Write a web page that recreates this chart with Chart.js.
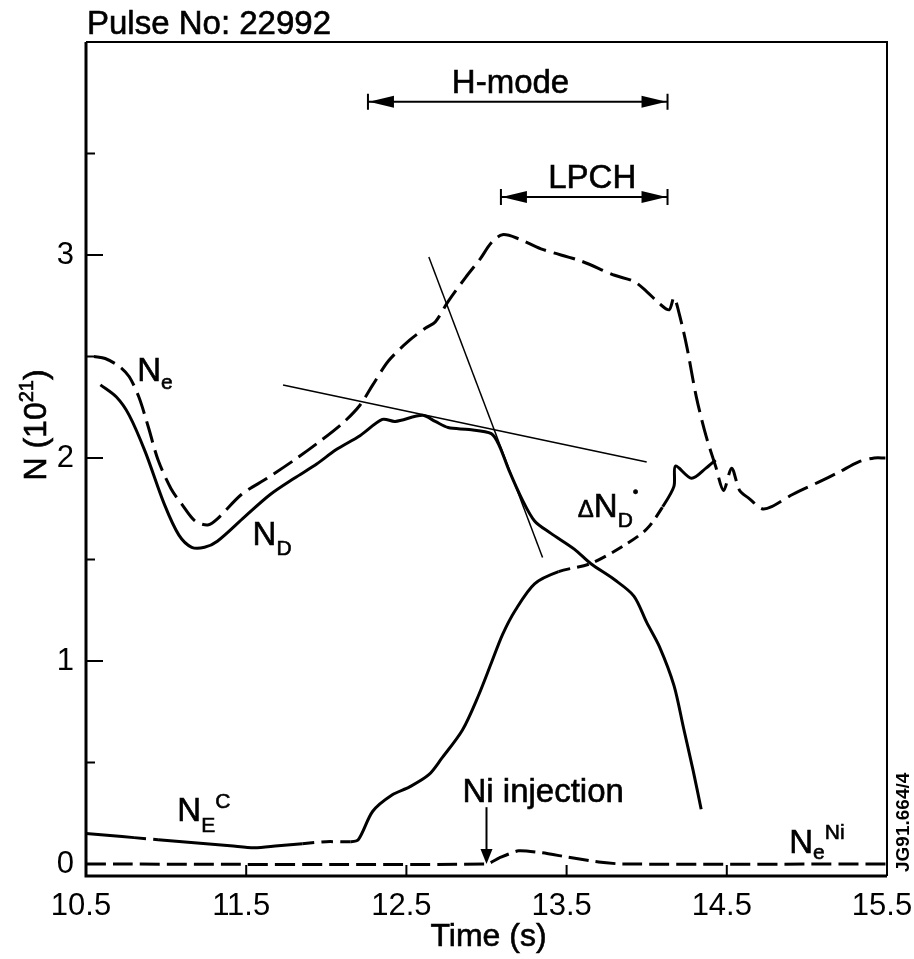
<!DOCTYPE html>
<html>
<head>
<meta charset="utf-8">
<script src="https://cdn.jsdelivr.net/npm/chart.js@4.4.0/dist/chart.umd.min.js"></script>
<style>
  body { margin: 0; background: #fff; }
</style>
</head>
<body>
<canvas id="myChart" width="914" height="959"></canvas>
<script>
// --- data (time in s, N in 10^21) ---
const timeNe = [10.55, 10.62, 10.71, 10.77, 10.83, 10.89, 10.95, 11.03, 11.10, 11.18, 11.26, 11.32, 11.47, 11.63, 11.80, 11.94,
  12.10, 12.21, 12.29, 12.39, 12.52, 12.62, 12.68, 12.76, 12.87, 12.96, 13.03, 13.10, 13.20, 13.34, 13.59, 13.80, 13.92,
  14.00, 14.08, 14.14, 14.17, 14.20, 14.25, 14.31, 14.37, 14.43, 14.48, 14.53, 14.58, 14.64, 14.72, 14.78, 14.91, 15.07,
  15.20, 15.32, 15.42, 15.49];
const valNe = [2.50, 2.49, 2.45, 2.40, 2.30, 2.15, 1.99, 1.85, 1.77, 1.69, 1.67, 1.70, 1.82, 1.90, 1.99, 2.07,
  2.17, 2.26, 2.36, 2.48, 2.58, 2.64, 2.67, 2.77, 2.89, 2.98, 3.06, 3.10, 3.08, 3.03, 2.97, 2.90, 2.87,
  2.82, 2.76, 2.73, 2.79, 2.72, 2.55, 2.30, 2.11, 1.96, 1.84, 1.95, 1.84, 1.80, 1.75, 1.76, 1.82, 1.88,
  1.93, 1.98, 2.00, 2.00];

const timeND = [10.59, 10.69, 10.77, 10.87, 10.99, 11.08, 11.16, 11.24, 11.32, 11.49, 11.65, 11.80, 11.94, 12.06, 12.21,
  12.35, 12.43, 12.60, 12.68, 12.76, 12.89, 13.03, 13.08, 13.14, 13.22, 13.30, 13.40, 13.55, 13.65, 13.80, 13.92,
  14.00, 14.08, 14.17, 14.23, 14.29, 14.34];
const valND = [2.36, 2.30, 2.21, 2.03, 1.77, 1.62, 1.56, 1.56, 1.59, 1.71, 1.82, 1.90, 1.97, 2.04, 2.11,
  2.19, 2.18, 2.21, 2.18, 2.15, 2.14, 2.12, 2.06, 1.94, 1.80, 1.69, 1.63, 1.55, 1.48, 1.40, 1.32,
  1.19, 1.07, 0.88, 0.67, 0.46, 0.27];

// N_E^C, continuing as dN_D*
const timeNEC = [10.50, 10.65, 10.80, 10.95, 11.10, 11.25, 11.40, 11.55, 11.70, 11.85, 12.00, 12.15, 12.20, 12.29, 12.41,
  12.52, 12.64, 12.72, 12.85, 12.95, 13.03, 13.10, 13.18, 13.30, 13.45, 13.65, 13.86, 14.00, 14.10, 14.17, 14.18,
  14.28, 14.37, 14.43];
const valNEC = [0.15, 0.14, 0.13, 0.12, 0.11, 0.10, 0.09, 0.08, 0.09, 0.10, 0.11, 0.11, 0.12, 0.26, 0.34,
  0.38, 0.44, 0.52, 0.66, 0.83, 0.99, 1.13, 1.25, 1.38, 1.44, 1.48, 1.57, 1.65, 1.76, 1.86, 1.96,
  1.90, 1.95, 1.99];

const timeNi = [10.5, 13.0, 13.08, 13.2, 13.35, 13.5, 13.7, 13.85, 15.5];
const valNi = [0, 0, 0.03, 0.065, 0.055, 0.035, 0.01, 0, 0];

// two thin fitted lines
const timeFit1 = [11.73, 14.0];
const valFit1 = [2.36, 1.98];
const timeFit2 = [12.64, 13.35];
const valFit2 = [2.99, 1.51];

const xTickValues = [10.5, 11.5, 12.5, 13.5, 14.5, 15.5];
const yTickValues = [0, 0.5, 1, 1.5, 2, 2.5, 3, 3.5];

const FONT = 'Liberation Sans, Arial, Helvetica, sans-serif';
const necDashRanges = [[10.75, 10.95], [11.85, 12.1], [13.45, 14.1]];

function pts(t, v) {
  return t.map((x, i) => ({ x: x, y: v[i] }));
}

// draws a label made of pieces: [text, fontSize, yShift]
function drawParts(ctx, x, y, parts, align) {
  let w = 0;
  parts.forEach(p => { ctx.font = p[1] + 'px ' + FONT; w += ctx.measureText(p[0]).width; });
  let cx = align === 'center' ? x - w / 2 : x;
  ctx.lineWidth = 0.6;
  parts.forEach(p => {
    ctx.font = p[1] + 'px ' + FONT;
    ctx.fillText(p[0], cx, y + p[2]);
    ctx.strokeText(p[0], cx, y + p[2]);
    cx += ctx.measureText(p[0]).width;
  });
}

function bracket(ctx, x1, x2, y) {
  ctx.lineWidth = 2;
  ctx.beginPath();
  ctx.moveTo(x1, y); ctx.lineTo(x2, y);
  ctx.moveTo(x1, y - 8); ctx.lineTo(x1, y + 8);
  ctx.moveTo(x2, y - 8); ctx.lineTo(x2, y + 8);
  ctx.stroke();
  ctx.beginPath();
  ctx.moveTo(x1 + 1, y); ctx.lineTo(x1 + 26, y - 6); ctx.lineTo(x1 + 26, y + 6); ctx.closePath();
  ctx.moveTo(x2 - 1, y); ctx.lineTo(x2 - 26, y - 6); ctx.lineTo(x2 - 26, y + 6); ctx.closePath();
  ctx.fill();
}

const extras = {
  id: 'extras',
  afterDraw(chart) {
    const ctx = chart.ctx;
    const a = chart.chartArea;
    const sx = chart.scales.x, sy = chart.scales.y;
    const px = v => sx.getPixelForValue(v);
    const py = v => sy.getPixelForValue(v);
    ctx.save();
    ctx.strokeStyle = '#000';
    ctx.fillStyle = '#000';
    ctx.textBaseline = 'alphabetic';
    ctx.textAlign = 'left';

    // frame
    ctx.lineWidth = 2;
    ctx.beginPath();
    ctx.moveTo(a.left, a.top); ctx.lineTo(a.right, a.top); ctx.lineTo(a.right, a.bottom);
    ctx.stroke();
    ctx.lineWidth = 3;
    ctx.beginPath();
    ctx.moveTo(a.left, a.top); ctx.lineTo(a.left, a.bottom); ctx.lineTo(a.right, a.bottom);
    ctx.stroke();

    // inward ticks
    ctx.lineWidth = 2;
    ctx.beginPath();
    yTickValues.slice(1).forEach(v => {
      const len = Number.isInteger(v) ? 17 : 9;
      ctx.moveTo(a.left, py(v)); ctx.lineTo(a.left + len, py(v));
    });
    xTickValues.slice(1, -1).forEach(v => {
      ctx.moveTo(px(v), a.bottom); ctx.lineTo(px(v), a.bottom - 11);
    });
    ctx.stroke();

    // title and axis titles
    drawParts(ctx, 87, 34, [['Pulse No: 22992', 33, 0]]);
    drawParts(ctx, (a.left + a.right) / 2 + 2, 946, [['Time (s)', 32, 0]], 'center');
    ctx.save();
    ctx.translate(46, 425);
    ctx.rotate(-Math.PI / 2);
    drawParts(ctx, 0, 0, [['N (10', 32, 0], ['21', 20, -13], [')', 32, 0]], 'center');
    ctx.restore();

    // H-mode / LPCH
    bracket(ctx, px(12.26), px(14.13), py(3.755));
    bracket(ctx, px(13.09), px(14.13), py(3.286));
    drawParts(ctx, px(13.15), py(3.80), [['H-mode', 33, 0]], 'center');
    drawParts(ctx, px(13.66), py(3.33), [['LPCH', 33, 0]], 'center');

    // curve labels
    drawParts(ctx, px(10.82), py(2.38), [['N', 33, 0], ['e', 21, 8]]);
    drawParts(ctx, px(11.54), py(1.57), [['N', 33, 0], ['D', 21, 10]]);
    drawParts(ctx, px(11.07), py(0.21), [['N', 33, 0], ['E', 21, 11], ['C', 21, -13]]);
    drawParts(ctx, px(13.57), py(1.71), [['\u0394', 24, 0], ['N', 33, 0], ['D', 21, 10], ['\u2022', 16, -20]]);
    drawParts(ctx, px(14.89), py(0.054), [['N', 33, 0], ['e', 21, 6], ['Ni', 21, -14]]);
    drawParts(ctx, px(12.85), py(0.305), [['Ni injection', 33, 0]]);

    // Ni injection arrow
    const ax = px(13.0), ay = py(0);
    ctx.lineWidth = 2;
    ctx.beginPath();
    ctx.moveTo(ax, py(0.28)); ctx.lineTo(ax, ay - 10);
    ctx.stroke();
    ctx.beginPath();
    ctx.moveTo(ax, ay); ctx.lineTo(ax - 6, ay - 15); ctx.lineTo(ax + 6, ay - 15); ctx.closePath();
    ctx.fill();

    // figure reference, vertical at right edge
    ctx.save();
    ctx.translate(909, 872);
    ctx.rotate(-Math.PI / 2);
    ctx.font = 'bold 19px ' + FONT;
    ctx.fillText('JG91.664/4', 0, 0);
    ctx.restore();

    ctx.restore();
  }
};

const baseLine = {
  showLine: true,
  pointRadius: 0,
  borderColor: '#000',
  backgroundColor: '#000',
  fill: false,
  tension: 0.3
};

new Chart(document.getElementById('myChart'), {
  type: 'scatter',
  data: {
    datasets: [
      Object.assign({}, baseLine, { label: 'Ne', data: pts(timeNe, valNe), borderWidth: 3, borderDash: [22, 8] }),
      Object.assign({}, baseLine, { label: 'ND', data: pts(timeND, valND), borderWidth: 3 }),
      Object.assign({}, baseLine, {
        label: 'NEC', data: pts(timeNEC, valNEC), borderWidth: 3,
        segment: {
          borderDash: c => necDashRanges.some(r => c.p0.parsed.x >= r[0] && c.p0.parsed.x < r[1]) ? [12, 7] : undefined
        }
      }),
      Object.assign({}, baseLine, { label: 'NeNi', data: pts(timeNi, valNi), borderWidth: 3, borderDash: [20, 7], tension: 0.2 }),
      Object.assign({}, baseLine, { label: 'fit1', data: pts(timeFit1, valFit1), borderWidth: 1.5, tension: 0 }),
      Object.assign({}, baseLine, { label: 'fit2', data: pts(timeFit2, valFit2), borderWidth: 1.5, tension: 0 })
    ]
  },
  options: {
    responsive: false,
    animation: false,
    devicePixelRatio: 1,
    layout: { autoPadding: false, padding: { top: 42, right: 27, left: 0, bottom: 0 } },
    plugins: { legend: { display: false }, tooltip: { enabled: false } },
    scales: {
      x: {
        type: 'linear',
        min: 10.5,
        max: 15.5,
        afterBuildTicks: s => { s.ticks = xTickValues.map(v => ({ value: v })); },
        afterFit: s => { s.height = 83; s.paddingLeft = 0; s.paddingRight = 0; },
        grid: { display: false },
        border: { display: false },
        ticks: {
          autoSkip: false,
          maxRotation: 0,
          padding: 4,
          labelOffset: -5,
          color: '#000',
          font: { family: FONT, size: 31 },
          callback: v => v.toFixed(1)
        }
      },
      y: {
        min: -0.059,
        max: 4.049,
        afterBuildTicks: s => { s.ticks = yTickValues.map(v => ({ value: v })); },
        afterFit: s => { s.width = 86; s.paddingTop = 0; s.paddingBottom = 0; },
        grid: { display: false },
        border: { display: false },
        ticks: {
          padding: 4,
          color: '#000',
          font: { family: FONT, size: 31 },
          callback: v => Number.isInteger(v) ? String(v) : ''
        }
      }
    }
  },
  plugins: [extras]
});
</script>
</body>
</html>
